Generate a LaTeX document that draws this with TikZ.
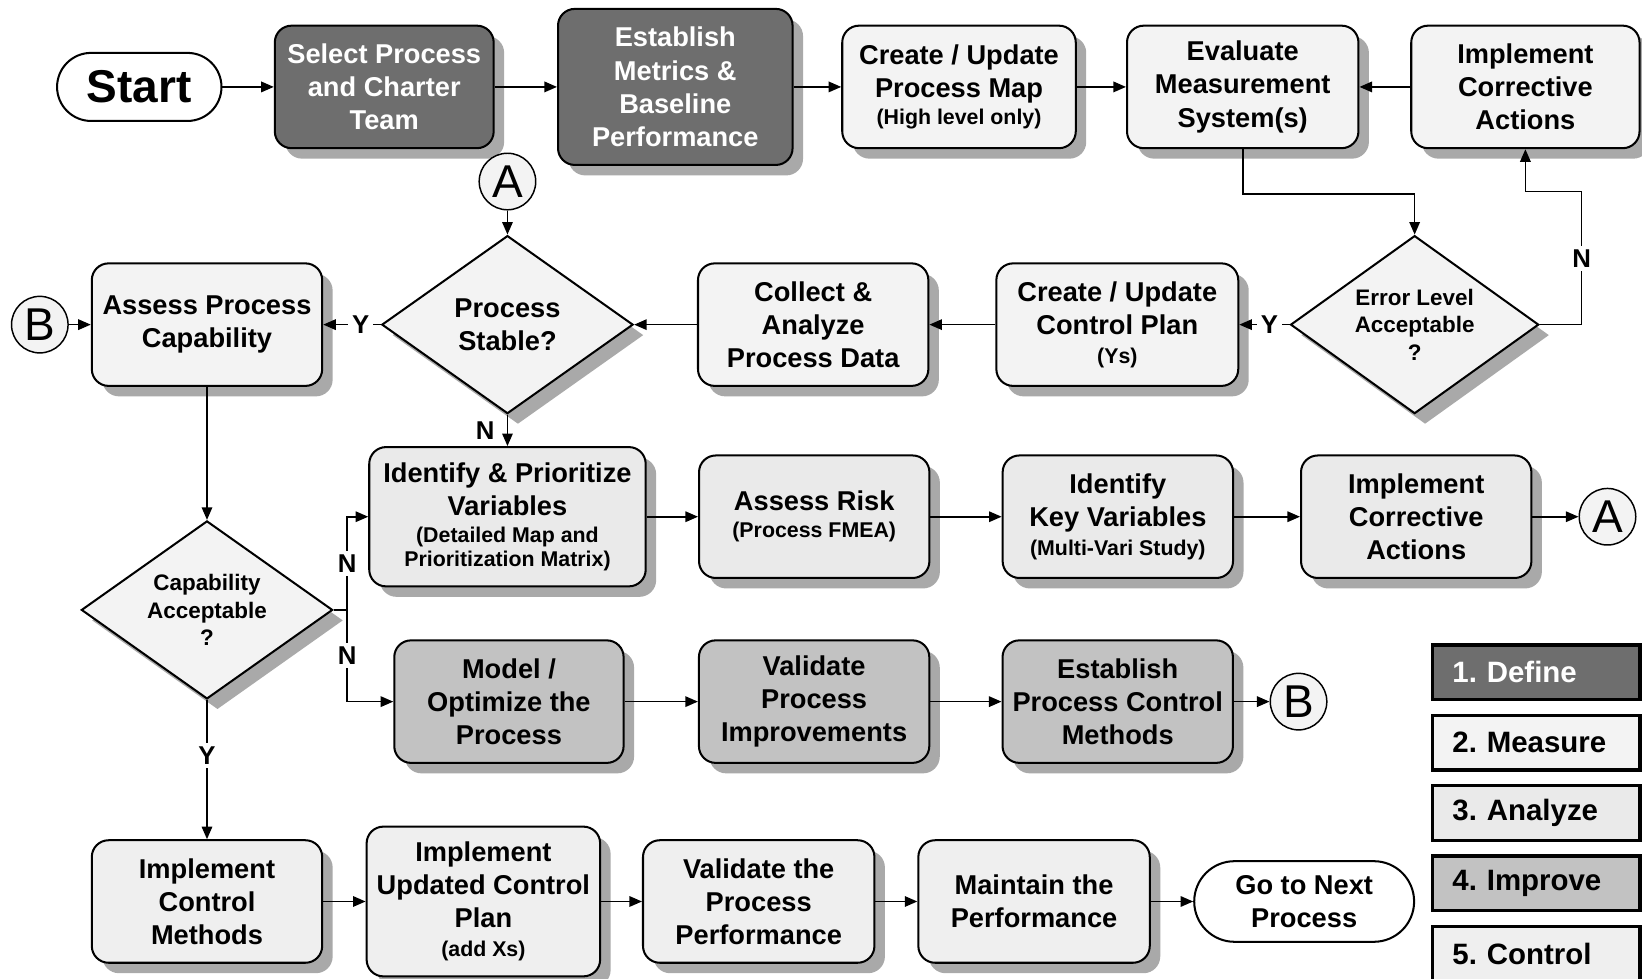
\documentclass[tikz,border=0pt]{standalone}
\usepackage{fontspec}
\setmainfont{Liberation Sans}
\usetikzlibrary{shapes.geometric, arrows.meta, positioning, calc, shadows}
\definecolor{definefill}{HTML}{6E6E6E}
\definecolor{measurefill}{HTML}{F3F3F3}
\definecolor{analyzefill}{HTML}{EAEAEA}
\definecolor{improvefill}{HTML}{C2C2C2}
\definecolor{controlfill}{HTML}{EFEFEF}
\definecolor{shadowgray}{HTML}{A9A9A9}
\newcommand{\subtext}[1]{{\fontsize{5.8}{6.8}\selectfont #1}}
\tikzstyle{phasebox} = [rectangle, rounded corners=1.6mm, minimum width=22mm, minimum height=11.7mm, inner sep=2pt, align=center, draw=black, line width=0.55pt, font=\fontsize{7.4}{9}\selectfont\bfseries, drop shadow={shadow xshift=1mm, shadow yshift=-1mm, fill=shadowgray, opacity=1}]
\tikzstyle{definebox} = [phasebox, fill=definefill, text=white]
\tikzstyle{measurebox} = [phasebox, fill=measurefill]
\tikzstyle{analyzebox} = [phasebox, fill=analyzefill]
\tikzstyle{improvebox} = [phasebox, fill=improvefill]
\tikzstyle{controlbox} = [phasebox, fill=controlfill]
\tikzstyle{decision} = [diamond, aspect=1.41, minimum width=24mm, minimum height=17mm, inner sep=0pt, align=center, draw=black, line width=0.55pt, fill=measurefill, font=\fontsize{6.1}{7.4}\selectfont\bfseries, drop shadow={shadow xshift=1mm, shadow yshift=-1mm, fill=shadowgray, opacity=1}]
\tikzstyle{terminal} = [rectangle, rounded corners=3.25mm, minimum width=15.7mm, minimum height=6.5mm, align=center, draw=black, line width=0.55pt, fill=white, font=\fontsize{7.4}{9}\selectfont\bfseries]
\tikzstyle{connector} = [circle, minimum size=5.4mm, inner sep=0pt, draw=black, line width=0.4pt, fill=measurefill, font=\fontsize{12.5}{13}\selectfont]
\tikzstyle{legendbox} = [rectangle, minimum height=5.2mm, text width=16mm, inner xsep=1.9mm, align=left, draw=black, line width=0.9pt, font=\fontsize{8}{9}\selectfont\bfseries]
\tikzstyle{answer} = [fill=white, inner sep=1pt, font=\fontsize{7}{8}\selectfont\bfseries]
\tikzstyle{arrow} = [line width=0.45pt, -{Triangle[length=1.2mm, width=1mm]}]

\begin{document}
\begin{tikzpicture}[x=0.1mm, y=-0.1mm]
        \path[use as bounding box, fill=white] (0,0) rectangle (1568,934);

        % Define / Measure (Top Row)
        \node (start) [terminal, font=\fontsize{12.5}{14}\selectfont\bfseries] at (133,83) {Start};
        \node (select) [definebox, minimum width=20.9mm, right=4.9mm of start] {Select Process\\and Charter\\Team};
        \node (metrics) [definebox, minimum width=22.4mm, minimum height=14.9mm, right=5.95mm of select] {Establish\\Metrics \&\\Baseline\\Performance};
        \node (procmap) [measurebox, minimum width=22.3mm, right=4.55mm of metrics] {Create / Update\\Process Map\\[-1.5pt]\subtext{(High level only)}};
        \node (evalms) [measurebox, minimum width=22.1mm, right=4.7mm of procmap] {Evaluate\\Measurement\\System(s)};
        \node (fixms) [measurebox, minimum width=21.8mm, right=4.85mm of evalms] {Implement\\Corrective\\Actions};

        % Measure (Second Row)
        \node (bconn) [connector] at (38,310) {B};
        \node (capab) [measurebox, right=2.1mm of bconn] {Assess Process\\Capability};
        \node (stable) [decision, font=\fontsize{7.4}{9}\selectfont\bfseries, right=5.5mm of capab] {Process\\Stable?};
        \node (aconn) [connector, above=2.3mm of stable] {A};
        \node (collect) [measurebox, right=6mm of stable] {Collect \&\\Analyze\\Process Data};
        \node (ctlplan) [measurebox, minimum width=23.1mm, right=6.3mm of collect] {Create / Update\\Control Plan\\[-1pt]\subtext{(Ys)}};
        \node (errok) [decision, minimum width=23.7mm, right=4.8mm of ctlplan] {Error Level\\Acceptable\\?};

        % Analyze (Third Row)
        \node (prioritize) [analyzebox, minimum width=26.4mm, minimum height=13.3mm, below=3mm of stable] {Identify \& Prioritize\\Variables\\[-1.7pt]\subtext{(Detailed Map and}\\[-2.5pt]\subtext{Prioritization Matrix)}};
        \node (risk) [analyzebox, right=4.9mm of prioritize] {Assess Risk\\[-1.7pt]\subtext{(Process FMEA)}};
        \node (keyvars) [analyzebox, right=6.8mm of risk] {Identify\\Key Variables\\[-1.2pt]\subtext{(Multi-Vari Study)}};
        \node (fixvars) [analyzebox, right=6.3mm of keyvars] {Implement\\Corrective\\Actions};
        \node (aout) [connector, right=4.4mm of fixvars] {A};
        \node (capok) [decision, below=12.7mm of capab] {Capability\\Acceptable\\?};

        % Improve (Fourth Row)
        \node (optimize) [improvebox, minimum width=21.9mm] at (486,670) {Model /\\Optimize the\\Process};
        \node (valimp) [improvebox, right=7mm of optimize] {Validate\\Process\\Improvements};
        \node (ctlmethods) [improvebox, right=6.8mm of valimp] {Establish\\Process Control\\Methods};
        \node (bout) [connector, right=3.4mm of ctlmethods] {B};

        % Control (Bottom Row)
        \node (implctl) [controlbox, below=13.3mm of capok] {Implement\\Control\\Methods};
        \node (updplan) [controlbox, minimum width=22.3mm, minimum height=14.3mm, right=4.05mm of implctl] {Implement\\Updated Control\\Plan\\[-1.2pt]\subtext{(add Xs)}};
        \node (valperf) [controlbox, minimum width=22.1mm, right=3.9mm of updplan] {Validate the\\Process\\Performance};
        \node (maintain) [controlbox, minimum width=22.1mm, right=4mm of valperf] {Maintain the\\Performance};
        \node (nextproc) [terminal, minimum width=21mm, minimum height=7.7mm, rounded corners=3.85mm, right=4.05mm of maintain] {Go to Next\\Process};

        % Legend
        \node (lgdefine) [legendbox, fill=definefill, text=white] at (1467,642) {1.\ Define};
        \node (lgmeasure) [legendbox, fill=measurefill, below=1.2mm of lgdefine] {2.\ Measure};
        \node (lganalyze) [legendbox, fill=analyzefill, below=1.2mm of lgmeasure] {3.\ Analyze};
        \node (lgimprove) [legendbox, fill=improvefill, below=1.2mm of lganalyze] {4.\ Improve};
        \node (lgcontrol) [legendbox, fill=controlfill, below=1.2mm of lgimprove] {5.\ Control};

        % Arrows: Top Row
        \draw [arrow] (start) -- (select);
        \draw [arrow] (select) -- (metrics);
        \draw [arrow] (metrics) -- (procmap);
        \draw [arrow] (procmap) -- (evalms);
        \draw [arrow] (fixms) -- (evalms);
        \draw [arrow] (evalms.south) -- ++(0,43) -| (errok.north);
        \draw [arrow] (errok.east) -- ++(40,0) -- node[answer] {N} ++(0,-127) -| (fixms.south);

        % Arrows: Second Row
        \draw [arrow] (errok) -- node[answer, pos=0.4] {Y} (ctlplan);
        \draw [arrow] (ctlplan) -- (collect);
        \draw [arrow] (collect) -- (stable);
        \draw [arrow] (aconn) -- (stable);
        \draw [arrow] (stable) -- node[answer, pos=0.35] {Y} (capab);
        \draw [arrow] (bconn) -- (capab);
        \draw [arrow] (stable) -- node[left, font=\fontsize{7}{8}\selectfont\bfseries] {N} (prioritize);

        % Arrows: Capability Decision
        \draw [arrow] (capab) -- (capok);
        \draw [arrow] (capok) -- node[answer, pos=0.4] {Y} (implctl);
        \coordinate (nsplit) at ([xshift=1.3mm]capok.east);
        \draw [line width=0.45pt] (capok.east) -- (nsplit);
        \draw [arrow] (nsplit) |- node[answer, pos=0.25] {N} (prioritize.west);
        \draw [arrow] (nsplit) |- node[answer, pos=0.25] {N} (optimize.west);

        % Arrows: Analyze / Improve / Control
        \draw [arrow] (prioritize) -- (risk);
        \draw [arrow] (risk) -- (keyvars);
        \draw [arrow] (keyvars) -- (fixvars);
        \draw [arrow] (fixvars) -- (aout);
        \draw [arrow] (optimize) -- (valimp);
        \draw [arrow] (valimp) -- (ctlmethods);
        \draw [arrow] (ctlmethods) -- (bout);
        \draw [arrow] (implctl) -- (updplan);
        \draw [arrow] (updplan) -- (valperf);
        \draw [arrow] (valperf) -- (maintain);
        \draw [arrow] (maintain) -- (nextproc);

    \end{tikzpicture}
\end{document}
